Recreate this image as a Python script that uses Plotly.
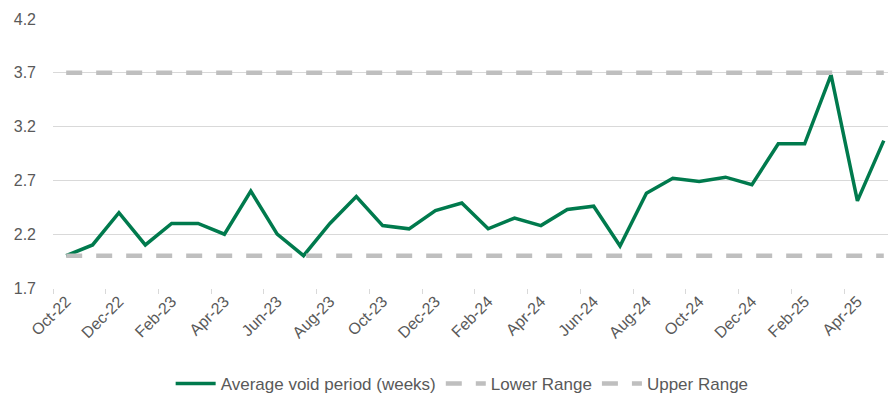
import plotly.graph_objects as go

months = ["Oct-22", "Nov-22", "Dec-22", "Jan-23", "Feb-23", "Mar-23", "Apr-23", "May-23",
          "Jun-23", "Jul-23", "Aug-23", "Sep-23", "Oct-23", "Nov-23", "Dec-23", "Jan-24",
          "Feb-24", "Mar-24", "Apr-24", "May-24", "Jun-24", "Jul-24", "Aug-24", "Sep-24",
          "Oct-24", "Nov-24", "Dec-24", "Jan-25", "Feb-25", "Mar-25", "Apr-25", "May-25"]
avg_void = [2.0, 2.1, 2.4, 2.1, 2.3, 2.3, 2.2, 2.6, 2.2, 2.0, 2.3, 2.55, 2.28, 2.25, 2.42, 2.49,
            2.25, 2.35, 2.28, 2.43, 2.46, 2.09, 2.58, 2.72, 2.69, 2.73, 2.66, 3.04, 3.04, 3.68,
            2.51, 3.07]
lower_range = [2.0] * len(months)
upper_range = [3.7] * len(months)

x = list(range(len(months)))
tickvals = x[::2]
ticktext = months[::2]
boundaries = [i - 0.5 for i in x[::2]]

FONT = "Liberation Sans, Arial, sans-serif"
GREY_TXT = "#595959"

fig = go.Figure()
fig.add_trace(go.Scatter(x=x, y=avg_void, mode="lines", name="Average void period (weeks)",
                         line=dict(color="#007A4D", width=3.5)))
fig.add_trace(go.Scatter(x=x, y=lower_range, mode="lines", name="Lower Range",
                         line=dict(color="#BFBFBF", width=4.5, dash="16px,14px")))
fig.add_trace(go.Scatter(x=x, y=upper_range, mode="lines", name="Upper Range",
                         line=dict(color="#BFBFBF", width=4.5, dash="16px,14px")))

fig.update_layout(
    width=888, height=402,
    margin=dict(l=53, r=0, t=19, b=113),
    paper_bgcolor="white", plot_bgcolor="white",
    font=dict(family=FONT, color=GREY_TXT, size=16),
    showlegend=True,
    legend=dict(orientation="h", x=0.49, xanchor="center", y=-0.356, yanchor="middle",
                font=dict(size=17, color=GREY_TXT), itemwidth=40, tracegroupgap=0),
)
fig.update_xaxes(
    range=[-0.5, 31.16], tickmode="array", tickvals=tickvals, ticktext=ticktext,
    tickangle=-45, ticks="", showgrid=False, zeroline=False, showline=False,
    tickfont=dict(size=16, color=GREY_TXT),
    minor=dict(tickmode="array", tickvals=boundaries, ticks="outside", ticklen=5,
               tickcolor="#D9D9D9", showgrid=False),
)
fig.update_yaxes(
    range=[1.7, 4.2], tickmode="linear", tick0=1.7, dtick=0.5, tickformat=".1f",
    showgrid=True, gridcolor="#D9D9D9", gridwidth=1, zeroline=False, showline=False,
    ticks="", ticklabelstandoff=16, tickfont=dict(size=16, color=GREY_TXT),
)

fig.write_html("out.html", config={"displayModeBar": False},
               post_script="document.body.style.margin='0';document.body.style.overflow='hidden';")
